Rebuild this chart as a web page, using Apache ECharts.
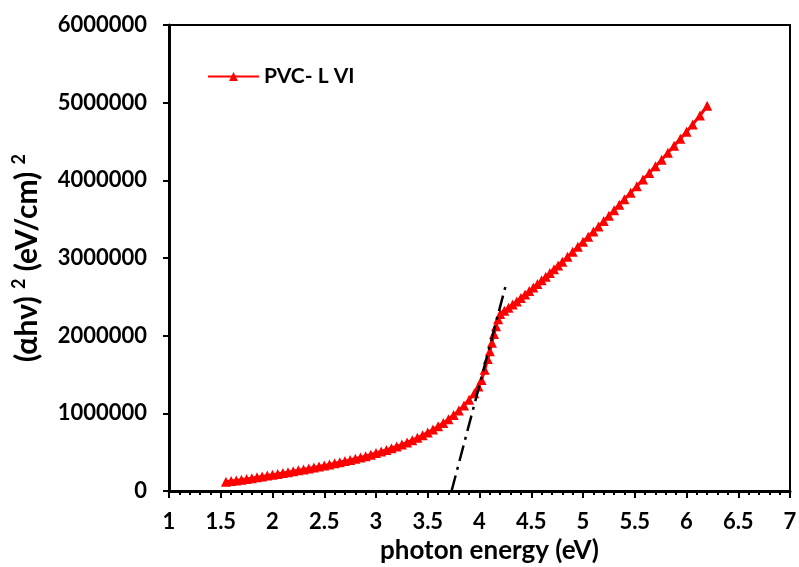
<!DOCTYPE html>
<html>
<head>
<meta charset="utf-8">
<script src="https://cdn.jsdelivr.net/npm/echarts@6/dist/echarts.min.js"></script>
<style>
html,body{margin:0;padding:0;background:#fff;}
#c{width:799px;height:567px;}
</style>
</head>
<body>
<div id="c"></div>
<script>
// photon energy (eV)
const energy = [
  1.55, 1.60, 1.65, 1.70, 1.75, 1.80, 1.85, 1.90, 1.95, 2.00,
  2.05, 2.10, 2.15, 2.20, 2.25, 2.30, 2.35, 2.40, 2.45, 2.50,
  2.55, 2.60, 2.65, 2.70, 2.75, 2.80, 2.85, 2.90, 2.95, 3.00,
  3.05, 3.10, 3.15, 3.20, 3.25, 3.30, 3.35, 3.40, 3.45, 3.50,
  3.55, 3.60, 3.65, 3.70, 3.75, 3.80, 3.85, 3.90, 3.95, 3.99,
  4.02, 4.05, 4.08, 4.10, 4.12, 4.14, 4.16, 4.18, 4.20,
  4.24, 4.28, 4.32, 4.36, 4.40, 4.44, 4.48, 4.52, 4.56, 4.60,
  4.64, 4.68, 4.72, 4.76, 4.80, 4.85, 4.90, 4.95, 5.00, 5.05,
  5.10, 5.15, 5.20, 5.25, 5.30, 5.35, 5.40, 5.46, 5.52, 5.58,
  5.64, 5.70, 5.76, 5.82, 5.88, 5.94, 6.00, 6.06, 6.13, 6.20
];
// (αhν)^2 (eV/cm)^2
const ahv2 = [
  120000, 128000, 136000, 145000, 155000, 165000, 176000, 187000, 198000, 210000,
  220000, 231000, 242000, 254000, 266000, 278000, 290000, 303000, 316000, 329000,
  342000, 356000, 370000, 385000, 400000, 415000, 431000, 448000, 468000, 490000,
  508000, 528000, 550000, 573000, 598000, 625000, 654000, 685000, 718000, 754000,
  792000, 833000, 877000, 925000, 978000, 1036000, 1100000, 1175000, 1260000, 1345000,
  1430000, 1560000, 1700000, 1800000, 1910000, 2020000, 2120000, 2210000, 2280000,
  2320000, 2360000, 2400000, 2440000, 2485000, 2530000, 2575000, 2620000, 2665000, 2712000,
  2760000, 2808000, 2856000, 2904000, 2952000, 3015000, 3080000, 3145000, 3210000, 3275000,
  3340000, 3405000, 3475000, 3545000, 3615000, 3685000, 3755000, 3840000, 3925000, 4010000,
  4095000, 4180000, 4265000, 4355000, 4445000, 4535000, 4625000, 4720000, 4835000, 4960000
];
// Tauc extrapolation line
const tangentX = [3.73, 4.25];
const tangentY = [0, 2630000];

const seriesName = 'PVC- L VI';
const xTitle = 'photon energy (eV)';

const FONT = 'Lato';
const chart = echarts.init(document.getElementById('c'), null, {renderer: 'canvas'});
chart.setOption({
  animation: false,
  backgroundColor: '#ffffff',
  grid: {
    left: 169, right: 9, top: 25, bottom: 76,
    outerBoundsMode: 'none', containLabel: false,
    show: true, borderColor: '#000', borderWidth: 2, backgroundColor: 'transparent'
  },
  legend: {
    data: [seriesName],
    left: 202, top: 61, padding: 5,
    itemWidth: 51, itemHeight: 11, itemGap: 10,
    textStyle: {fontFamily: FONT, fontWeight: 'bold', fontSize: 21, color: '#000'}
  },
  xAxis: {
    type: 'value', min: 1, max: 7, interval: 0.5,
    name: xTitle, nameLocation: 'middle', nameGap: 45,
    nameTextStyle: {fontFamily: FONT, fontWeight: 'bold', fontSize: 26, color: '#000', padding: [0, 0, 0, 20]},
    axisLine: {show: true, onZero: false, lineStyle: {color: '#000', width: 3}},
    axisTick: {show: true, inside: false, length: 7, lineStyle: {color: '#000', width: 2}},
    minorTick: {show: true, splitNumber: 5, length: 4, lineStyle: {color: '#000', width: 2}},
    splitLine: {show: false},
    axisLabel: {margin: 20, fontFamily: FONT, fontWeight: 'bold', fontSize: 22, color: '#000'}
  },
  yAxis: {
    type: 'value', min: 0, max: 6000000, interval: 1000000,
    name: '{t|(αhν) }{sup|2}{t| (eV/cm) }{sup|2}', nameLocation: 'middle', nameGap: 124,
    nameTextStyle: {
      fontFamily: FONT, fontWeight: 'bold', fontSize: 30, color: '#000',
      rich: {
        t: {fontFamily: FONT, fontWeight: 'bold', fontSize: 30, color: '#000', lineHeight: 35},
        sup: {fontFamily: FONT, fontWeight: 'bold', fontSize: 18, color: '#000', lineHeight: 35, verticalAlign: 'top', padding: [0, 0, 13, 0]}
      }
    },
    axisLine: {show: true, onZero: false, lineStyle: {color: '#000', width: 3}},
    axisTick: {show: true, inside: false, length: 6, lineStyle: {color: '#000', width: 2}},
    splitLine: {show: false},
    axisLabel: {margin: 22, fontFamily: FONT, fontWeight: 'bold', fontSize: 22, color: '#000',
      formatter: v => String(v)}
  },
  series: [
    {
      name: seriesName, type: 'line',
      data: energy.map((e, i) => [e, ahv2[i]]),
      symbol: 'triangle', symbolSize: 10, showSymbol: true,
      lineStyle: {color: '#ff0000', width: 3},
      itemStyle: {color: '#ff0000'},
      z: 3
    },
    {
      name: 'tangent', type: 'line',
      data: tangentX.map((e, i) => [e, tangentY[i]]),
      symbol: 'none',
      lineStyle: {color: '#000', width: 2.5, type: [16, 6, 3, 6]},
      z: 4
    }
  ]
});
</script>
</body>
</html>
